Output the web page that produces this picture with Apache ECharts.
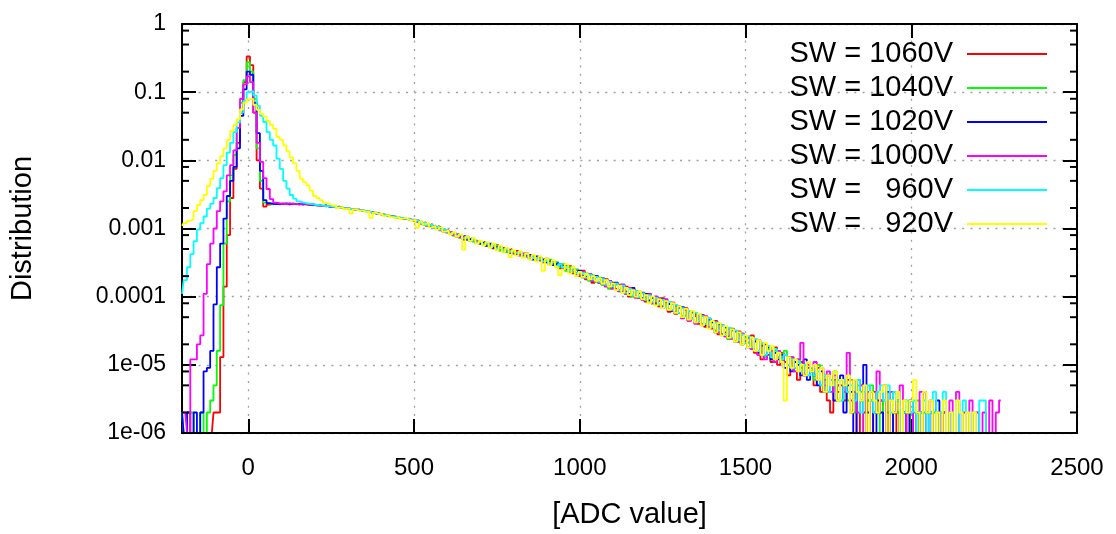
<!DOCTYPE html>
<html>
<head>
<meta charset="utf-8">
<script src="https://cdn.jsdelivr.net/npm/echarts@6/dist/echarts.min.js"></script>
<style>
  html, body { margin: 0; padding: 0; background: #fff; }
  #chart { width: 1116px; height: 534px; }
</style>
</head>
<body>
<div id="chart"></div>
<script>
// Histogram binning: bins are 10 ADC counts wide, first bin centred at -200.
const BIN_START = -200;
const BIN_WIDTH = 10;
// Events per run; the distribution is counts / EVENTS.
const EVENTS = 1e6;

const X_MIN = -200, X_MAX = 2500;
const Y_MIN = 1e-6, Y_MAX = 1;

// U+2007 (figure space) keeps the voltages right-aligned in the key
const seriesNames = ['SW = 1060V', 'SW = 1040V', 'SW = 1020V', 'SW = 1000V', 'SW = \u2007960V', 'SW = \u2007920V'];
const seriesColors = ['#ff0000', '#00ff00', '#0000ff', '#ff00ff', '#00ffff', '#ffff00'];

// Y tick labels, one per decade from 1e-06 up to 1.
const yTickLabels = ['1e-06', '1e-05', '0.0001', '0.001', '0.01', '0.1', '1'];
// Minor tick multipliers inside each decade.
const yMinorSteps = [2, 5, 8];

// Counts per bin, first bin at x = -200.
const counts1060 = [
  1,1,1,1,1,1,1,1,1,1,
  2,2,13,140,800,2800,7500,18000,50000,140000,
  335000,250000,50000,10000,3850,2100,2250,2290,2310,2260,
  2330,2280,2270,2320,2290,2250,2310,2260,2210,2240,
  2180,2210,2140,2120,2170,2070,2060,2090,1990,1960,
  1980,1910,1870,1900,1810,1790,1770,1700,1710,1630,
  1600,1590,1520,1530,1450,1460,1400,1370,1400,1320,
  1290,1320,1180,1230,1090,1160,1010,1080,1010,900,
  930,840,870,760,800,690,760,680,640,660,
  600,640,550,580,510,570,480,520,470,500,
  430,470,420,390,430,360,400,350,380,320,
  360,300,320,310,260,290,250,280,220,250,
  200,240,180,215,160,200,185,150,180,140,
  160,130,150,118,140,100,125,120,95,115,
  85,110,80,100,72,95,86,60,82,56,
  72,50,68,44,60,52,40,54,36,48,
  34,44,28,38,30,24,34,22,31,20,
  26,18,27,15,23,12,20,14,11,18,
  10,15,11,7,12,9,6,11,7,9,
  8,5,9,4,6,3,2,6,4,5,
  3,6,2,4,1,5,2,3,1,4,
  2,3,1,1,3,1,2,1,2,1,
  2,1,1,2,1,2
];

const counts1040 = [
  2,1,2,2,1,1,2,1,2,3,
  5,16,75,600,2500,6000,12000,30000,70000,150000,
  275000,200000,80000,15000,5000,2400,2310,2260,2330,2290,
  2270,2310,2340,2280,2260,2320,2290,2250,2280,2190,
  2230,2170,2150,2160,2090,2120,2050,2070,2000,2010,
  1940,1930,1900,1850,1860,1780,1790,1730,1670,1660,
  1610,1570,1560,1500,1480,1430,1430,1410,1350,1340,
  1350,1250,1260,1140,1180,1070,1030,1080,950,960,
  870,900,790,840,730,770,690,720,640,620,
  650,570,600,540,520,560,480,510,450,480,
  460,410,450,380,410,370,390,340,370,330,
  310,350,290,320,270,300,240,270,230,250,
  230,190,220,170,205,165,190,150,175,130,
  150,150,120,145,110,135,100,120,112,92,
  105,82,98,76,90,68,86,65,78,60,
  68,52,64,46,58,42,55,40,50,35,
  42,32,39,27,35,24,33,22,29,20,
  25,21,18,23,14,20,13,17,12,16,
  13,11,16,10,13,8,12,9,7,10,
  9,6,10,5,7,4,6,8,3,6,
  5,3,6,2,5,4,1,3,5,2,
  4,1,3,2,1,4,2,1,3,2,
  1,2,3,1,2,1,1,2,1,2
];

const counts1020 = [
  2,1,2,1,2,1,2,8,9,16,
  77,270,600,1400,3000,5000,8000,15000,45000,110000,
  200000,180000,70000,25000,7000,2600,2350,2300,2270,2320,
  2290,2330,2260,2310,2280,2290,2240,2300,2230,2250,
  2200,2180,2150,2180,2100,2110,2040,2060,2020,1970,
  1960,1920,1880,1880,1830,1790,1750,1740,1660,1650,
  1620,1560,1550,1510,1480,1440,1410,1390,1370,1330,
  1280,1300,1200,1150,1170,1060,1100,980,1010,920,
  940,830,860,790,740,780,680,710,690,610,
  590,630,560,600,520,550,530,470,500,440,
  470,420,440,400,380,410,350,390,340,360,
  320,340,290,310,290,260,280,240,260,220,
  240,200,190,215,170,200,160,185,150,170,
  135,160,125,150,118,110,135,100,115,95,
  110,88,96,80,94,72,84,78,62,74,
  58,70,52,62,48,56,44,52,38,46,
  42,30,40,28,36,26,32,30,22,28,
  21,25,17,22,15,19,14,18,12,15,
  12,14,9,13,8,11,10,7,12,6,
  9,7,5,8,4,7,6,3,5,7,
  2,5,4,1,6,3,10,2,4,1,
  3,2,1,4,1,2,3,1,2,1,
  3,1,2,1,4,1,2,1,3,1,
  2,1,2
];

const counts1000 = [
  2,2,1,12,12,20,27,110,300,600,
  1000,1800,2500,3500,6000,8500,14000,30000,80000,130000,
  170000,140000,50000,18000,9500,5500,3800,2700,2400,2330,
  2310,2280,2340,2290,2300,2260,2320,2270,2240,2260,
  2190,2200,2130,2170,2110,2090,2080,2030,2010,1990,
  1950,1940,1880,1870,1840,1800,1770,1710,1690,1650,
  1600,1580,1530,1520,1490,1440,1420,1400,1360,1350,
  1340,1240,1260,1160,1110,1130,1020,1050,940,970,
  880,890,810,830,740,760,730,660,690,620,
  640,580,610,540,570,500,540,480,510,450,
  440,450,400,430,390,370,400,340,370,330,
  350,300,330,280,300,260,280,230,260,210,
  210,230,185,215,170,195,160,180,140,170,
  130,155,120,150,110,135,125,96,118,90,
  90,108,80,100,86,70,92,64,82,58,
  70,48,64,44,60,40,56,38,52,36,
  36,42,30,38,26,34,24,31,22,29,
  22,26,17,23,14,21,12,19,16,11,
  16,11,14,10,13,8,12,21,7,10,
  8,11,6,9,5,8,4,7,5,6,
  4,15,3,6,2,5,1,4,3,2,
  8,3,5,1,4,2,3,5,1,2,
  3,1,2,4,1,2,3,1,2,1,
  2,1,3,1,4,1,2,1,3,1,
  2,1,2,1,3,1,2,3
];

const counts960 = [
  110,175,270,420,650,960,1200,1500,1960,2300,
  2800,3900,5500,8500,13000,18000,26000,36000,50000,75000,
  100000,104000,90000,63000,45000,36500,26000,20000,16500,10600,
  7500,5000,3850,3100,2750,2500,2420,2350,2300,2270,
  2230,2200,2170,2130,2140,2090,2050,2060,2000,1990,
  1960,1920,1910,1860,1840,1810,1760,1730,1690,1640,
  1630,1580,1550,1500,1490,1460,1420,1390,1380,1340,
  1310,1300,1200,1220,1110,1140,1020,1070,960,980,
  900,840,870,780,810,720,750,660,700,620,
  640,590,610,550,570,510,540,480,500,460,
  450,430,440,390,420,370,390,350,370,330,
  340,310,330,280,300,270,280,240,260,220,
  220,225,190,210,180,195,165,180,150,165,
  140,155,125,145,115,130,105,120,98,112,
  90,104,84,96,78,90,70,84,64,76,
  58,68,52,62,48,58,44,52,40,48,
  36,42,32,38,28,35,25,32,23,28,
  21,26,18,24,16,21,14,19,13,17,
  15,12,14,10,12,9,11,8,10,7,
  9,7,8,5,7,4,6,5,6,3,
  6,4,5,3,6,2,4,5,3,2,
  4,5,3,5,2,4,3,1,2,3,
  2,3,1,2,3,1,2,4,1,2,
  4,1,2,1,3,1,3,2,1,2,
  1,3,3,1
];

const counts920 = [
  1100,1200,1300,1360,1800,2200,2600,3100,4200,5400,
  7000,9000,11500,15000,20000,27000,33000,40000,56000,70000,
  78000,80000,65000,55000,48000,44000,38000,33000,29000,22000,
  20000,16500,13500,11000,9000,7000,5400,4800,4300,3600,
  3000,2800,2600,2400,2300,2150,2200,2000,2070,1930,
  1980,1650,1900,1820,1840,1740,1790,1430,1700,1620,
  1640,1530,1580,1470,1420,1480,1380,1440,1350,1290,
  1340,1020,1250,1160,1200,1040,1100,960,1030,900,
  940,820,880,760,820,490,760,660,720,600,
  660,560,630,520,600,480,560,450,520,380,
  480,400,460,370,430,350,410,330,390,240,
  360,290,340,270,205,250,300,220,270,200,
  230,195,215,180,200,170,185,155,175,140,
  155,125,145,115,135,105,125,100,118,92,
  105,80,100,74,92,68,86,64,80,58,
  72,50,66,46,62,42,56,38,50,34,
  44,30,41,27,37,25,33,22,30,20,
  27,18,25,16,23,14,21,16,19,12,
  15,11,3,13,9,12,8,10,7,11,
  8,10,6,9,4,7,5,8,3,6,
  5,7,2,6,4,3,5,1,4,3,
  2,4,5,1,3,2,4,1,3,2,
  3,6,2,1,4,2,3,1,2,1,
  3,1,2,1,3,2,1,2,1,2,
  1
];

const seriesCounts = [counts1060, counts1040, counts1020, counts1000, counts960, counts920];

// [bin centre, fraction of events] pairs for each run
function toPoints(counts) {
  return counts.map((c, i) => [BIN_START + i * BIN_WIDTH, c / EVENTS]);
}

// Minor tick values on the log axis
const yMinorTicks = [];
for (let e = -6; e < 0; e++) {
  yMinorSteps.forEach(m => yMinorTicks.push([m * Math.pow(10, e)]));
}

const FONT = 'Liberation Sans';
const TEXT_COLOR = '#000';
const TICK_FONT_SIZE = 23;
const TITLE_FONT_SIZE = 29;

const gridLine = { show: true, lineStyle: { color: '#a0a0a0', width: 1.3, type: [2, 6.3] } };

const lineSeries = seriesNames.map((name, k) => ({
  name: name,
  type: 'line',
  step: 'middle',
  showSymbol: false,
  symbol: 'none',
  animation: false,
  lineStyle: { color: seriesColors[k], width: 1.8 },
  itemStyle: { color: seriesColors[k] },
  data: toPoints(seriesCounts[k]),
  z: 2
}));

const minorTickSeries = {
  type: 'custom',
  silent: true,
  animation: false,
  data: yMinorTicks,
  encode: { y: 0 },
  z: 6,
  renderItem: function (params, api) {
    const v = api.value(0);
    const l = api.coord([X_MIN, v]);
    const r = api.coord([X_MAX, v]);
    const st = { stroke: '#000', lineWidth: 2 };
    return {
      type: 'group',
      children: [
        { type: 'line', shape: { x1: l[0], y1: l[1], x2: l[0] + 7, y2: l[1] }, style: st },
        { type: 'line', shape: { x1: r[0] - 7, y1: r[1], x2: r[0], y2: r[1] }, style: st }
      ]
    };
  }
};

const chart = echarts.init(document.getElementById('chart'), null, { renderer: 'canvas' });

chart.setOption({
  backgroundColor: '#fff',
  animation: false,
  textStyle: { fontFamily: FONT, color: TEXT_COLOR },
  grid: { left: 182, right: 39, top: 24, bottom: 97, containLabel: false },
  legend: {
    data: seriesNames,
    orient: 'vertical',
    align: 'right',
    right: 64,
    top: 34,
    itemWidth: 80,
    itemHeight: 2,
    itemGap: 4,
    icon: 'rect',
    textStyle: { fontFamily: FONT, fontSize: TITLE_FONT_SIZE, color: TEXT_COLOR, lineHeight: 30, padding: [0, 9, 0, 0] },
    selectedMode: false
  },
  xAxis: [
    {
      type: 'value', min: X_MIN, max: X_MAX, splitNumber: 5, position: 'bottom',
      axisLine: { show: true, onZero: false, lineStyle: { color: '#000', width: 2 } },
      axisTick: { show: true, inside: true, length: 14, lineStyle: { color: '#000', width: 2 } },
      axisLabel: { showMinLabel: false, fontFamily: FONT, fontSize: 24, color: TEXT_COLOR, margin: 23,
                   formatter: v => String(v) },
      splitLine: gridLine,
      name: '[ADC value]', nameLocation: 'middle', nameGap: 67,
      nameTextStyle: { fontFamily: FONT, fontSize: TITLE_FONT_SIZE, color: TEXT_COLOR }
    },
    {
      type: 'value', min: X_MIN, max: X_MAX, splitNumber: 5, position: 'top',
      axisLine: { show: true, onZero: false, lineStyle: { color: '#000', width: 2 } },
      axisTick: { show: true, inside: true, length: 14, lineStyle: { color: '#000', width: 2 } },
      axisLabel: { show: false }, splitLine: { show: false }
    },
    {
      // bottom frame edge drawn above the histograms
      type: 'value', min: X_MIN, max: X_MAX, position: 'bottom', z: 10,
      axisLine: { show: true, onZero: false, lineStyle: { color: '#000', width: 2 } },
      axisTick: { show: false }, axisLabel: { show: false }, splitLine: { show: false }
    }
  ],
  yAxis: [
    {
      type: 'log', logBase: 10, min: Y_MIN, max: Y_MAX, position: 'left',
      axisLine: { show: true, onZero: false, lineStyle: { color: '#000', width: 2 } },
      axisTick: { show: true, inside: true, length: 14, lineStyle: { color: '#000', width: 2 } },
      axisLabel: {
        fontFamily: FONT, fontSize: TICK_FONT_SIZE, color: TEXT_COLOR, margin: 16,
        formatter: v => yTickLabels[Math.round(Math.log10(v)) + 6]
      },
      splitLine: gridLine,
      name: 'Distribution', nameLocation: 'middle', nameGap: 145, nameRotate: 90,
      nameTextStyle: { fontFamily: FONT, fontSize: TITLE_FONT_SIZE, color: TEXT_COLOR }
    },
    {
      type: 'log', logBase: 10, min: Y_MIN, max: Y_MAX, position: 'right',
      axisLine: { show: true, onZero: false, lineStyle: { color: '#000', width: 2 } },
      axisTick: { show: true, inside: true, length: 14, lineStyle: { color: '#000', width: 2 } },
      axisLabel: { show: false }, splitLine: { show: false }
    }
  ],
  series: lineSeries.concat([minorTickSeries])
});
</script>
</body>
</html>
